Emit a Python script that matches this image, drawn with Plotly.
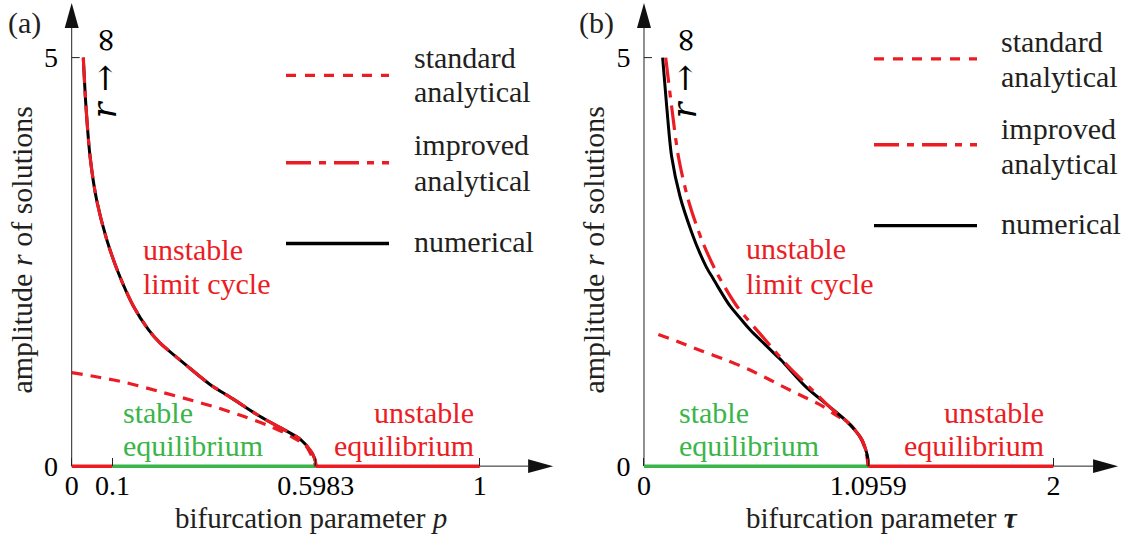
import plotly.graph_objects as go

# ---------------- data ----------------
# panel (a): bifurcation parameter p
p_num_a = [0.0284, 0.035, 0.045, 0.061, 0.086, 0.114, 0.151, 0.188, 0.216, 0.282,
           0.339, 0.396, 0.461, 0.519, 0.560, 0.588, 0.5955, 0.5978, 0.5983]
r_num_a = [5.0, 4.40, 3.79, 3.26, 2.77, 2.37, 1.96, 1.67, 1.51, 1.23,
           1.00, 0.82, 0.61, 0.45, 0.33, 0.17, 0.09, 0.045, 0.0]
p_imp_a = [0.0284, 0.035, 0.045, 0.061, 0.086, 0.114, 0.151, 0.188, 0.216, 0.282,
           0.339, 0.396, 0.461, 0.519, 0.560, 0.588, 0.5955, 0.5978, 0.5983]
r_imp_a = [5.0, 4.40, 3.79, 3.26, 2.77, 2.37, 1.96, 1.67, 1.51, 1.23,
           1.00, 0.82, 0.61, 0.45, 0.33, 0.17, 0.09, 0.045, 0.0]
p_std_a = [0.0, 0.07, 0.135, 0.21, 0.298, 0.36, 0.421, 0.49, 0.543, 0.575, 0.5983]
r_std_a = [1.145, 1.085, 1.02, 0.92, 0.80, 0.71, 0.61, 0.48, 0.35, 0.24, 0.0]
p_eq_unstable_left = [0.0, 0.1]
p_eq_stable = [0.1, 0.5983]
p_eq_unstable_right = [0.5983, 1.0]
xtick_vals_a = [0, 0.1, 0.5983, 1]
xtick_text_a = ["0", "0.1", "0.5983", "1"]

# panel (b): bifurcation parameter tau
tau_num_b = [0.091, 0.111, 0.135, 0.176, 0.233, 0.274, 0.306, 0.339, 0.36, 0.42, 0.48, 0.518,
             0.558, 0.648, 0.673, 0.787, 0.900, 0.998, 1.063, 1.0845, 1.091, 1.0945, 1.0959]
r_num_b = [5.0, 4.40, 3.79, 3.30, 2.86, 2.60, 2.43, 2.29, 2.20, 1.96, 1.78, 1.67,
           1.57, 1.35, 1.29, 0.98, 0.74, 0.53, 0.33, 0.19, 0.13, 0.07, 0.0]
tau_imp_b = [0.106, 0.135, 0.168, 0.216, 0.282, 0.355, 0.453, 0.591, 0.705, 0.819,
             0.917, 1.006, 1.063, 1.0845, 1.091, 1.0945, 1.0959]
r_imp_b = [5.0, 4.40, 3.79, 3.26, 2.77, 2.37, 1.96, 1.55, 1.22, 0.94,
           0.70, 0.51, 0.33, 0.19, 0.13, 0.07, 0.0]
tau_std_b = [0.070, 0.17, 0.282, 0.40, 0.51, 0.60, 0.689, 0.78, 0.868, 0.94, 0.998, 1.05, 1.08, 1.0959]
r_std_b = [1.61, 1.52, 1.41, 1.30, 1.185, 1.075, 0.96, 0.85, 0.74, 0.62, 0.53, 0.38, 0.22, 0.0]
tau_eq_stable = [0.0, 1.0959]
tau_eq_unstable = [1.0959, 2.0]
xtick_vals_b = [0, 1.0959, 2]
xtick_text_b = ["0", "1.0959", "2"]

ytick_vals = [0, 5]
ytick_text = ["0", "5"]

# ---------------- style ----------------
RED = "#ec1c24"
GREEN = "#3ab54a"
BLACK = "#000000"
TXT = "#231f20"
AX = "#222222"
FONT = "Liberation Serif"
SYMFONT = "DejaVu Serif"
FS = 30      # body text
FT = 28      # tick labels
W, H = 1129, 540          # layout is designed in reference pixels (fractions of W x H)
FIG_H = 547               # the photographed viewport is slightly taller than 540

# geometry (pixels)
Y0_PX, SY = 467.0, 81.86          # y=0 pixel row, px per unit r
YR = [-0.1, 5.7]
PANELS = {
    "a": dict(x0=71.7, sx=408.0, xr=[-0.03, 1.19], xtip=1.18),
    "b": dict(x0=644.0, sx=204.7, xr=[-0.06, 2.36], xtip=2.316),
}
YTIP = 5.668
ARW_LEN, ARW_HW = 25.0, 7.0
TICK_PX = 8.0

def xdom(P):
    return [(P["x0"] + P["xr"][0] * P["sx"]) / W, (P["x0"] + P["xr"][1] * P["sx"]) / W]

ydom = [1 - (Y0_PX - YR[0] * SY) / H, 1 - (Y0_PX - YR[1] * SY) / H]

fig = go.Figure()

def add_panel(xa, ya, num_x, num_y, imp_x, imp_y, std_x, std_y, eq_segments):
    for xs, col in eq_segments:
        fig.add_trace(go.Scatter(x=xs, y=[0, 0], mode="lines", line=dict(color=col, width=3.5),
                                 xaxis=xa, yaxis=ya, showlegend=False, hoverinfo="skip"))
    fig.add_trace(go.Scatter(x=std_x, y=std_y, mode="lines",
                             line=dict(color=RED, width=3.2, dash="11px,8px", shape="spline", smoothing=0.8),
                             xaxis=xa, yaxis=ya, showlegend=False))
    fig.add_trace(go.Scatter(x=num_x, y=num_y, mode="lines",
                             line=dict(color=BLACK, width=3, shape="spline", smoothing=0.8),
                             xaxis=xa, yaxis=ya, showlegend=False))
    fig.add_trace(go.Scatter(x=imp_x, y=imp_y, mode="lines",
                             line=dict(color=RED, width=3.2, dash="25px,8px,7px,8px", shape="spline", smoothing=0.8),
                             xaxis=xa, yaxis=ya, showlegend=False))

add_panel("x", "y", p_num_a, r_num_a, p_imp_a, r_imp_a, p_std_a, r_std_a,
          [(p_eq_unstable_left, RED), (p_eq_stable, GREEN), (p_eq_unstable_right, RED)])
add_panel("x2", "y2", tau_num_b, r_num_b, tau_imp_b, r_imp_b, tau_std_b, r_std_b,
          [(tau_eq_stable, GREEN), (tau_eq_unstable, RED)])

tickfont = dict(family=FONT, size=FT, color=BLACK)
xcommon = dict(showgrid=False, zeroline=False, showline=False, ticks="inside", ticklen=8,
               tickwidth=1, tickcolor=AX, tickfont=tickfont, fixedrange=True)
# y tick labels sit ~10 px left of the axis: transparent outside ticks give that gap,
# the visible (inside) tick marks are drawn as shapes below
ycommon = dict(showgrid=False, zeroline=False, showline=False, ticks="outside", ticklen=8,
               tickwidth=1, tickcolor="rgba(0,0,0,0)", tickfont=tickfont, fixedrange=True)

Pa, Pb = PANELS["a"], PANELS["b"]
fig.update_layout(
    xaxis=dict(domain=xdom(Pa), range=Pa["xr"], anchor="free", position=1 - Y0_PX / H,
               tickvals=xtick_vals_a, ticktext=xtick_text_a, **xcommon),
    yaxis=dict(domain=ydom, range=YR, anchor="free", position=Pa["x0"] / W,
               tickvals=ytick_vals, ticktext=ytick_text, **ycommon),
    xaxis2=dict(domain=xdom(Pb), range=Pb["xr"], anchor="free", position=1 - Y0_PX / H,
                tickvals=xtick_vals_b, ticktext=xtick_text_b, **xcommon),
    yaxis2=dict(domain=ydom, range=YR, anchor="free", position=Pb["x0"] / W,
                tickvals=ytick_vals, ticktext=ytick_text, **ycommon),
)

# axis lines with arrow heads, inside y ticks
shapes = []
for key, xr_, yr_ in (("a", "x", "y"), ("b", "x2", "y2")):
    P = PANELS[key]
    alx = ARW_LEN / P["sx"]
    hwy = ARW_HW / SY
    aly = ARW_LEN / SY
    hwx = ARW_HW / P["sx"]
    shapes.append(dict(type="line", xref=xr_, yref=yr_, x0=0, y0=0, x1=P["xtip"] - alx, y1=0,
                       line=dict(color=AX, width=1), layer="below"))
    shapes.append(dict(type="line", xref=xr_, yref=yr_, x0=0, y0=0, x1=0, y1=YTIP - aly,
                       line=dict(color=AX, width=1), layer="below"))
    shapes.append(dict(type="path", xref=xr_, yref=yr_,
                       path=f"M {P['xtip']},0 L {P['xtip'] - alx},{hwy} L {P['xtip'] - alx},{-hwy} Z",
                       fillcolor="#111111", line=dict(width=0), layer="below"))
    shapes.append(dict(type="path", xref=xr_, yref=yr_,
                       path=f"M 0,{YTIP} L {hwx},{YTIP - aly} L {-hwx},{YTIP - aly} Z",
                       fillcolor="#111111", line=dict(width=0), layer="below"))
    for tv in ytick_vals:
        if tv != 0:
            shapes.append(dict(type="line", xref=xr_, yref=yr_, x0=0, x1=TICK_PX / P["sx"], y0=tv, y1=tv,
                               line=dict(color=AX, width=1), layer="below"))

def px(x):
    return x / W

def py(y):
    return 1 - y / H

annotations = []

def ann(x, y, text, color=TXT, xanchor="center", angle=0, size=FS, family=FONT):
    annotations.append(dict(xref="paper", yref="paper", x=px(x), y=py(y), text=text, showarrow=False,
                            xanchor=xanchor, yanchor="middle", textangle=angle, borderpad=0,
                            font=dict(family=family, size=size, color=color)))

def line_at_baseline(x, base, text, color=TXT, xanchor="left"):
    # centre of the text box sits ~0.34 em above the baseline
    ann(x, base - 0.3375 * FS, text, color, xanchor)

# legend samples
legend_rows = {
    "a": dict(x0=286, x1=389, ys=[75.5, 163, 244], tx=413,
              bases=[[67.7, 101.8], [154.7, 190.5], [252.0]]),
    "b": dict(x0=874, x1=977, ys=[59, 145, 226], tx=1000,
              bases=[[52.0, 86.5], [138.5, 173.5], [234.5]]),
}
legend_styles = [dict(color=RED, width=3.4, dash="10px,9px"),
                 dict(color=RED, width=3.4, dash="25px,8px,7px,8px"),
                 dict(color=BLACK, width=3.4)]
legend_texts = [["standard", "analytical"], ["improved", "analytical"], ["numerical"]]

for key, L in legend_rows.items():
    for yy, st, lines, bases in zip(L["ys"], legend_styles, legend_texts, L["bases"]):
        shapes.append(dict(type="line", xref="paper", yref="paper", x0=px(L["x0"]), x1=px(L["x1"]),
                           y0=py(yy), y1=py(yy), line=st))
        for t, b in zip(lines, bases):
            line_at_baseline(L["tx"], b, t)

# region labels
line_at_baseline(141.7, 260, "unstable", RED)
line_at_baseline(141.7, 294, "limit cycle", RED)
line_at_baseline(121.7, 423.3, "stable", GREEN)
line_at_baseline(121.7, 456.7, "equilibrium", GREEN)
line_at_baseline(475, 423.3, "unstable", RED, "right")
line_at_baseline(475, 456.7, "equilibrium", RED, "right")
line_at_baseline(745, 259, "unstable", RED)
line_at_baseline(745, 294, "limit cycle", RED)
line_at_baseline(678, 423.3, "stable", GREEN)
line_at_baseline(678, 456.7, "equilibrium", GREEN)
line_at_baseline(1045, 423.3, "unstable", RED, "right")
line_at_baseline(1045, 456.7, "equilibrium", RED, "right")

# r -> infinity
ann(104, 72.5, "<i>r</i> → ∞", BLACK, angle=-90, size=33, family=SYMFONT)
ann(684, 72.5, "<i>r</i> → ∞", BLACK, angle=-90, size=33, family=SYMFONT)

# panel labels
ann(24.5, 23, "(a)")
ann(596, 23, "(b)")

# axis titles
ann(311, 519, "bifurcation parameter <i>p</i>", size=29)
ann(881.5, 519, "bifurcation parameter <b><i>τ</i></b>", size=29)
ann(22, 250, "amplitude <i>r</i> of solutions", angle=-90)
ann(594, 250, "amplitude <i>r</i> of solutions", angle=-90)

fig.update_layout(
    width=W, height=FIG_H, margin=dict(l=0, r=0, t=0, b=0),
    paper_bgcolor="white", plot_bgcolor="white",
    shapes=shapes, annotations=annotations, showlegend=False,
    font=dict(family=FONT, size=FS, color=TXT),
)

PAGE_FIX = (
    "document.documentElement.style.margin='0';"
    "document.body.style.margin='0';document.body.style.padding='0';"
    "document.documentElement.style.overflow='hidden';document.body.style.overflow='hidden';"
)

fig.write_html("out.html", config={"displayModeBar": False}, post_script=PAGE_FIX)
